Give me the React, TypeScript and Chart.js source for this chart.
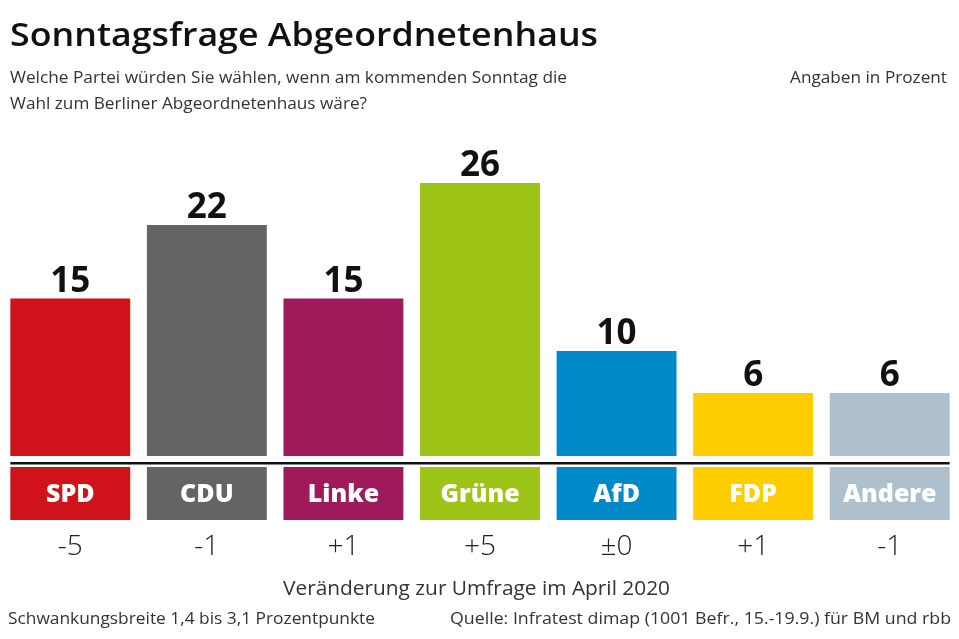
import React, { useEffect, useRef } from "react";
import { Chart, registerables } from "chart.js";

Chart.register(...registerables);

const parties = ["SPD", "CDU", "Linke", "Grüne", "AfD", "FDP", "Andere"];
const values = [15, 22, 15, 26, 10, 6, 6];
const changes = ["-5", "-1", "+1", "+5", "±0", "+1", "-1"];
const colors = ["#d0121b", "#646464", "#9e1a5b", "#9dc416", "#0089c9", "#fccd00", "#aec0cd"];

const title = "Sonntagsfrage Abgeordnetenhaus";
const subtitle1 = "Welche Partei würden Sie wählen, wenn am kommenden Sonntag die";
const subtitle2 = "Wahl zum Berliner Abgeordnetenhaus wäre?";
const unitNote = "Angaben in Prozent";
const changeNote = "Veränderung zur Umfrage im April 2020";
const footLeft = "Schwankungsbreite 1,4 bis 3,1 Prozentpunkte";
const footRight = "Quelle: Infratest dimap (1001 Befr., 15.-19.9.) für BM und rbb";

const FONT = "'Open Sans', 'Noto Sans', sans-serif";

function fitText(ctx: CanvasRenderingContext2D, text: string, x: number, y: number, width: number) {
  const w = ctx.measureText(text).width;
  const s = width / w;
  ctx.save();
  ctx.translate(x, y);
  ctx.scale(s, 1);
  ctx.fillText(text, 0, 0);
  ctx.restore();
}

const decor = {
  id: "decor",
  afterDatasetsDraw(chart: any) {
    const ctx = chart.ctx as CanvasRenderingContext2D;
    const meta = chart.getDatasetMeta(0);
    const area = chart.chartArea;
    ctx.save();
    ctx.textBaseline = "alphabetic";
    ctx.textAlign = "left";
    ctx.fillStyle = "#111";
    ctx.font = `600 33px ${FONT}`;
    fitText(ctx, title, 10, 46, 588);
    ctx.fillStyle = "#333";
    ctx.font = `17px ${FONT}`;
    fitText(ctx, subtitle1, 10, 83, 557);
    fitText(ctx, subtitle2, 10, 109, 357);
    fitText(ctx, unitNote, 790, 83, 157);

    const first = meta.data[0];
    const last = meta.data[meta.data.length - 1];
    const lineL = first.x - first.width / 2;
    const lineR = last.x + last.width / 2;
    ctx.fillStyle = "#111";
    ctx.fillRect(lineL, area.bottom + 6, lineR - lineL, 2.5);

    meta.data.forEach((bar: any, i: number) => {
      const l = bar.x - bar.width / 2;
      ctx.fillStyle = "#111";
      ctx.textAlign = "center";
      ctx.textBaseline = "alphabetic";
      ctx.font = `bold 35px ${FONT}`;
      ctx.fillText(String(values[i]), bar.x, bar.y - 7);

      ctx.fillStyle = colors[i];
      ctx.fillRect(l, area.bottom + 11, bar.width, 53);
      ctx.fillStyle = "#fff";
      ctx.textBaseline = "middle";
      ctx.font = `800 25px ${FONT}`;
      ctx.fillText(parties[i], bar.x, area.bottom + 39);

      ctx.fillStyle = "#222";
      ctx.font = `300 28px ${FONT}`;
      ctx.fillText(changes[i], bar.x, area.bottom + 91);
    });

    ctx.textBaseline = "alphabetic";
    ctx.fillStyle = "#333";
    ctx.textAlign = "left";
    ctx.font = `20px ${FONT}`;
    fitText(ctx, changeNote, 283, 595, 387);
    ctx.font = `16px ${FONT}`;
    fitText(ctx, footLeft, 8, 624, 367);
    fitText(ctx, footRight, 450, 624, 501);
    ctx.restore();
  },
};

export default function App() {
  const ref = useRef<HTMLCanvasElement>(null);
  useEffect(() => {
    if (!ref.current) return;
    const chart = new Chart(ref.current, {
      type: "bar",
      data: {
        labels: parties,
        datasets: [
          {
            data: values,
            backgroundColor: colors,
            borderWidth: 0,
            barPercentage: 0.878,
            categoryPercentage: 1,
          },
        ],
      },
      options: {
        animation: false,
        responsive: false,
        devicePixelRatio: 1,
        layout: { padding: { top: 141, bottom: 183, left: 2, right: 1 } },
        plugins: { legend: { display: false }, tooltip: { enabled: false }, title: { display: false } },
        scales: {
          x: { display: false },
          y: { display: false, min: 0, max: 30 },
        },
      },
      plugins: [decor],
    });
    return () => chart.destroy();
  }, []);
  return (
    <div style={{ position: "fixed", left: 0, top: 0, width: 959, height: 639, background: "#fff" }}>
      <canvas ref={ref} width={959} height={639} />
    </div>
  );
}
